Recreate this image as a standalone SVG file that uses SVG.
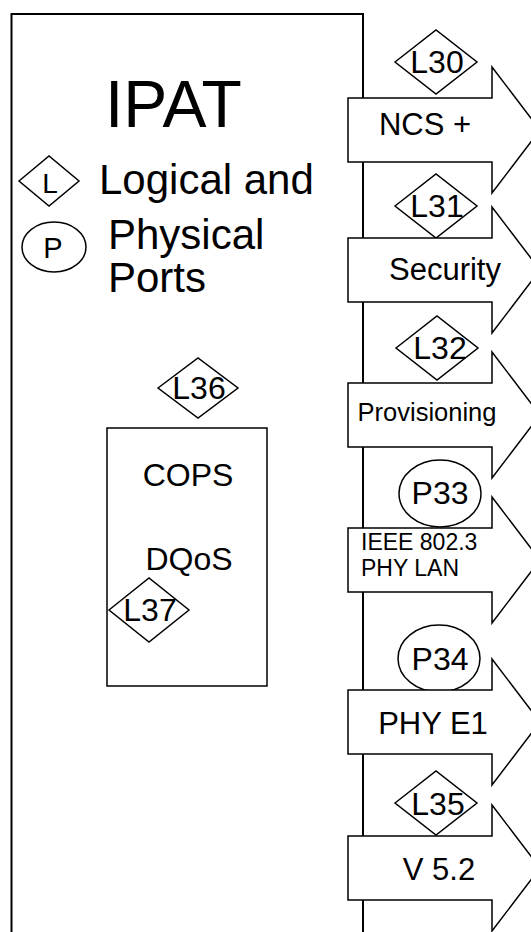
<svg xmlns="http://www.w3.org/2000/svg" width="531" height="932" viewBox="0 0 531 932">
<style>
  text { font-family: "Liberation Sans", Arial, sans-serif; fill: #000; }
  .frame { fill: none; stroke: #000; stroke-width: 2; }
  .shape { fill: #fff; stroke: #000; stroke-width: 1.5; }
  .arrow { fill: #fff; stroke: #000; stroke-width: 1.5; stroke-linejoin: miter; }
  .port { font-size: 32px; text-anchor: middle; }
  .lbl { font-size: 31px; text-anchor: middle; }
  .box { font-size: 32px; text-anchor: middle; }
  .big { font-size: 42px; }
</style>
<rect x="0" y="0" width="531" height="932" fill="#fff"/>

<g id="ipat">
  <path class="frame" d="M11.5,932 V14 H363 V932"/>
  <text x="105" y="127" style="font-size:66px">IPAT</text>
</g>

<g id="legend">
  <polygon class="shape" points="19,181 49,156 79,181 49,206"/>
  <text x="50" y="193" style="font-size:28px" text-anchor="middle">L</text>
  <ellipse class="shape" cx="54" cy="247" rx="32" ry="25"/>
  <text x="53" y="258" style="font-size:29px" text-anchor="middle">P</text>
  <text class="big" x="99" y="194">Logical and</text>
  <text class="big" x="108" y="249">Physical</text>
  <text class="big" x="108" y="292">Ports</text>
</g>

<g id="cops">
  <rect class="shape" x="107" y="428" width="160" height="258"/>
  <text class="box" x="188" y="486">COPS</text>
  <text class="box" x="189" y="570">DQoS</text>
</g>

<g id="L36">
  <polygon class="shape" points="158,388 198,358 238,388 198,418"/>
  <text class="port" x="199" y="399">L36</text>
</g>

<g id="L37">
  <polygon class="shape" points="109,610 149,578 189,610 149,642"/>
  <text class="port" x="150" y="621">L37</text>
</g>

<g id="ports">
  <g id="L30">
    <polygon class="shape" points="395,62 436,30 477,62 436,94"/>
    <text class="port" x="437" y="73">L30</text>
  </g>
  <g id="L31">
    <polygon class="shape" points="395,206 436,174 477,206 436,238"/>
    <text class="port" x="437" y="217">L31</text>
  </g>
  <g id="L32">
    <polygon class="shape" points="396,348 437,316 478,348 437,380"/>
    <text class="port" x="440" y="359">L32</text>
  </g>
  <g id="P33">
    <ellipse class="shape" cx="440" cy="493.5" rx="41" ry="33.5"/>
    <text class="port" x="440" y="504">P33</text>
  </g>
  <g id="P34">
    <ellipse class="shape" cx="439" cy="658.5" rx="41" ry="33.5"/>
    <text class="port" x="440" y="670">P34</text>
  </g>
  <g id="L35">
    <polygon class="shape" points="395,803 436,771 477,803 436,835"/>
    <text class="port" x="438" y="815">L35</text>
  </g>
</g>

<g id="interfaces">
  <g id="arrow-ncs">
    <polygon class="arrow" points="348,98 492,98 492,67 540,130 492,193 492,162 348,162"/>
    <text class="lbl" x="425" y="135">NCS +</text>
  </g>
  <g id="arrow-security">
    <polygon class="arrow" points="348,238 492,238 492,207 540,270 492,333 492,302 348,302"/>
    <text class="lbl" x="445" y="280">Security</text>
  </g>
  <g id="arrow-provisioning">
    <polygon class="arrow" points="348,383 492,383 492,352 540,415 492,478 492,447 348,447"/>
    <text x="427" y="421" style="font-size:25.5px" text-anchor="middle">Provisioning</text>
  </g>
  <g id="arrow-ieee">
    <polygon class="arrow" points="348,528 492,528 492,497 540,560 492,623 492,592 348,592"/>
    <text x="361" y="550" style="font-size:23px">IEEE 802.3</text>
    <text x="361" y="576" style="font-size:23px">PHY LAN</text>
  </g>
  <g id="arrow-e1">
    <polygon class="arrow" points="348,690 492,690 492,659 540,722 492,785 492,754 348,754"/>
    <text class="lbl" x="433" y="734">PHY E1</text>
  </g>
  <g id="arrow-v52">
    <polygon class="arrow" points="348,836 492,836 492,805 540,868 492,931 492,900 348,900"/>
    <text class="lbl" x="439" y="880">V 5.2</text>
  </g>
</g>
</svg>
